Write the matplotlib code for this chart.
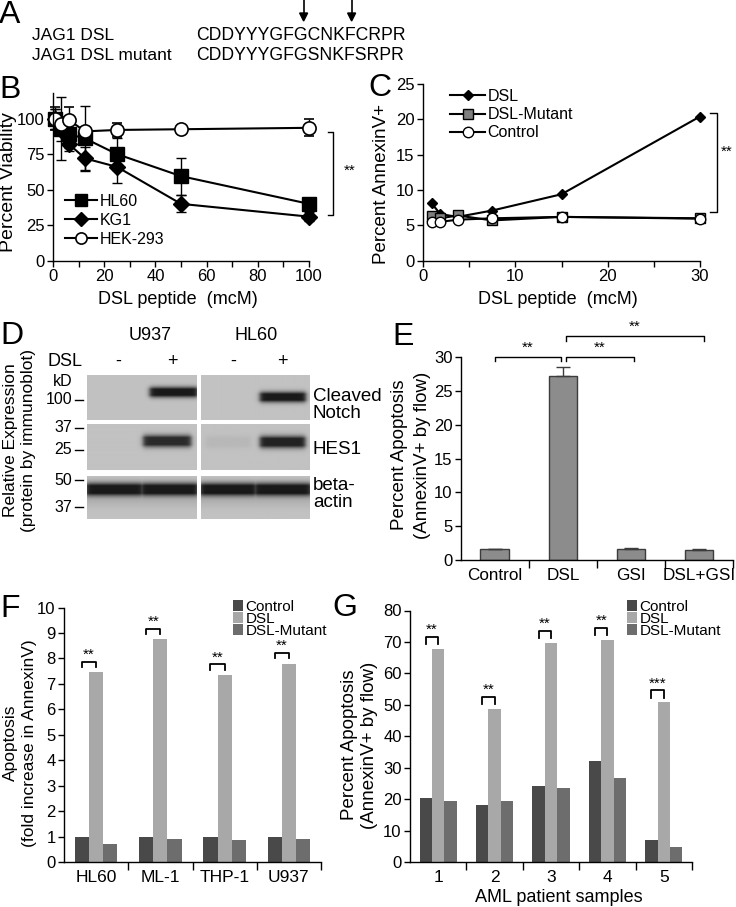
import matplotlib
matplotlib.use('Agg')
import matplotlib.pyplot as plt
import numpy as np

W, H = 736, 907
plt.rcParams['font.family'] = ['Liberation Sans', 'DejaVu Sans']
plt.rcParams['axes.linewidth'] = 1.0
plt.rcParams['xtick.direction'] = 'out'
plt.rcParams['ytick.direction'] = 'out'

# ---- data ----
seq_names = ['JAG1 DSL', 'JAG1 DSL mutant']
seqs = ['CDDYYYGFGCNKFCRPR', 'CDDYYYGFGSNKFSRPR']
mut_pos = [9, 13]

b_conc = [0.78, 3.125, 6.25, 12.5, 25, 50, 100]
b_hl60 = [100, 93, 89, 86, 75, 59.5, 40]
b_hl60_err = [7, 22, 10, 23, 11, 13, 3]
b_kg1 = [100, 92, 82, 72, 66, 40, 31]
b_kg1_err = [7, 8, 5, 8, 11, 6, 3]
b_hek = [100, 96, 99, 91, 92, 92.5, 93.5]
b_hek_err = [8, 5, 9, 3, 5, 2, 6]

c_conc = [0.9375, 1.875, 3.75, 7.5, 15, 30]
c_dsl = [8.1, 6.6, 6.2, 7.1, 9.4, 20.4]
c_mut = [6.3, 6.0, 6.4, 5.7, 6.2, 6.0]
c_ctrl = [5.5, 5.5, 5.8, 6.0, 6.2, 5.95]

blot_cells = ['U937', 'HL60']
blot_lanes = ['-', '+']
blot_proteins = ['Cleaved\nNotch', 'HES1', 'beta-\nactin']
# band strength per protein, per lane (U937 -, U937 +, HL60 -, HL60 +)
band_notch = [0.0, 1.0, 0.0, 1.0]
band_hes1 = [0.0, 0.9, 0.06, 0.95]
band_actin = [1.0, 1.0, 1.0, 1.0]
kd_labels = [['100'], ['37', '25'], ['50', '37']]

e_groups = ['Control', 'DSL', 'GSI', 'DSL+GSI']
e_vals = [1.58, 27.2, 1.7, 1.5]
e_err = [0.1, 1.4, 0.1, 0.1]

f_lines = ['HL60', 'ML-1', 'THP-1', 'U937']
f_ctrl = [1.0, 1.0, 1.0, 1.0]
f_dsl = [7.46, 8.75, 7.35, 7.8]
f_mut = [0.71, 0.9, 0.87, 0.92]
f_stars = ['**', '**', '**', '**']

g_samples = ['1', '2', '3', '4', '5']
g_ctrl = [20.3, 18.0, 24.1, 32.2, 7.1]
g_dsl = [67.9, 48.7, 69.7, 70.7, 50.8]
g_mut = [19.5, 19.3, 23.6, 26.8, 4.8]
g_stars = ['**', '**', '**', '**', '***']

bar_cols = ['#494949', '#a8a8a8', '#6d6d6d']
bar_names = ['Control', 'DSL', 'DSL-Mutant']

fig = plt.figure(figsize=(W / 100, H / 100), dpi=100)


def add_ax(l, t, r, b):
    return fig.add_axes([l / W, 1 - b / H, (r - l) / W, (b - t) / H])


def ftext(x, y, s, **kw):
    return fig.text(x / W, 1 - y / H, s, **kw)


def vlabel(xs, y, lines, size):
    # one rotated text per line, so each line sits at its own x
    for x, s in zip(xs, lines):
        ftext(x, y, s, fontsize=size, rotation=90, ha='center', va='center')


def style(ax, size=12):
    for sp in ['top', 'right']:
        ax.spines[sp].set_visible(False)
    ax.tick_params(which='both', length=4, width=1, pad=2, labelsize=size)
    ax.tick_params(which='minor', length=4)


LET = dict(fontsize=23, ha='center', va='center', family=['Liberation Sans Narrow', 'Liberation Sans'])

# ---- A ----
ftext(10, 15, 'A', **LET)
for i, (nm, sq) in enumerate(zip(seq_names, seqs)):
    ftext(32, 35 + 20 * i, nm, fontsize=12.5, va='center')
    ftext(196, 35 + 20 * i, sq, fontsize=12.7, va='center')
fig.canvas.draw()
rend = fig.canvas.get_renderer()
for p in mut_pos:
    t1 = ftext(196, 35, seqs[0][:p], fontsize=12.7, va='center')
    w1 = t1.get_window_extent(rend).width
    t1.remove()
    xc = 196 + w1 - 4
    fig.add_artist(plt.Line2D([xc / W, xc / W], [1.0, 1 - 14 / H], color='k', lw=1.2))
    fig.add_artist(plt.Polygon([[(xc - 4) / W, 1 - 13 / H], [(xc + 4) / W, 1 - 13 / H], [xc / W, 1 - 21 / H]],
                               closed=True, color='k', transform=fig.transFigure))

# ---- B ----
ftext(10, 90, 'B', **LET)
ax = add_ax(53, 93, 309, 260.7)
style(ax)
eb_kw = dict(color='k', lw=1.5, capsize=3.5, elinewidth=1, capthick=1, clip_on=False)
h1 = ax.errorbar(b_conc, b_hl60, yerr=b_hl60_err, fmt='-s', ms=9.5, mfc='k', mec='k', **eb_kw)
h2 = ax.errorbar(b_conc, b_kg1, yerr=b_kg1_err, fmt='-D', ms=8.5, mfc='k', mec='k', **eb_kw)
h3 = ax.errorbar(b_conc, b_hek, yerr=b_hek_err, fmt='-o', ms=9.5, mfc='white', mec='k', mew=1.2, **eb_kw)
for h in (h1, h2, h3):
    for a in h.lines[0:1] + h.lines[1] + h.lines[2]:
        a.set_clip_on(False)
ax.set_xlim(0, 100)
ax.set_ylim(0, 118)
ax.set_yticks([0, 25, 50, 75, 100])
ax.set_xticks(range(0, 101, 20))
ax.set_xticks(range(10, 100, 20), minor=True)
ax.legend([h1.lines[0], h2.lines[0], h3.lines[0]], ['HL60', 'KG1', 'HEK-293'], loc='upper left',
          bbox_to_anchor=(57 / W, 1 - 186 / H), bbox_transform=fig.transFigure, frameon=False,
          fontsize=11.5, handlelength=2.0, handletextpad=0.15, labelspacing=0.25, borderpad=0,
          markerscale=0.85)
ax.plot([107.4, 109.4, 109.4, 107.4], [90.8, 90.8, 32, 32], color='k', lw=1, clip_on=False)
ax.text(115.9, 63, '**', ha='center', va='center', fontsize=11)
vlabel([9], 182, ['Percent Viability'], 14)
ftext(178, 299, 'DSL peptide  (mcM)', fontsize=13, ha='center', va='center')

# ---- C ----
ftext(380, 88, 'C', **LET)
ax = add_ax(423, 84, 700, 260.7)
style(ax)
l1, = ax.plot(c_conc, c_dsl, '-D', color='k', ms=5.5, lw=1.5, clip_on=False)
l2, = ax.plot(c_conc, c_mut, '-s', color='k', mfc='#7f7f7f', mec='k', ms=7, lw=1.5, clip_on=False)
l3, = ax.plot(c_conc, c_ctrl, '-o', color='k', mfc='white', mec='k', ms=7.5, lw=1.5, clip_on=False)
ax.set_xlim(0, 30)
ax.set_ylim(0, 25)
ax.set_yticks(range(0, 26, 5))
ax.set_xticks([0, 10, 20, 30])
ax.set_xticks([5, 15, 25], minor=True)
ax.legend([l1, l2, l3], ['DSL', 'DSL-Mutant', 'Control'], loc='upper left',
          bbox_to_anchor=(442 / W, 1 - 81 / H), bbox_transform=fig.transFigure, frameon=False,
          fontsize=11.5, handlelength=2.2, handletextpad=0.15, labelspacing=0.2, borderpad=0)
ax.plot([31.1, 31.8, 31.8, 31.1], [20.85, 20.85, 6.84, 6.84], color='k', lw=1, clip_on=False)
ax.text(32.9, 15.4, '**', ha='center', va='center', fontsize=11)
vlabel([382], 184, ['Percent AnnexinV+'], 13.5)
ftext(558, 299, 'DSL peptide  (mcM)', fontsize=13, ha='center', va='center')

# ---- D ----
ftext(12, 336, 'D', **LET)
vlabel([11, 29], 440, ['Relative Expression', '(protein by immunoblot)'], 12.5)
for j, cell in enumerate(blot_cells):
    ftext([150, 256][j], 335, cell, fontsize=13, ha='center', va='center')
ftext(65, 361, 'DSL', fontsize=13, ha='center', va='center')
for k, x in enumerate([118, 172, 233, 282]):
    ftext(x, 361, blot_lanes[k % 2], fontsize=13, ha='center', va='center')
ftext(63, 382, 'kD', fontsize=11.5, ha='center', va='center')

row_px = [(375, 420), (424, 470), (476, 519)]
block_px = [(87, 197), (201, 310)]
bands = [band_notch, band_hes1, band_actin]
band_y = [[0.38, 0.49], [0.37, 0.39], [0.31, 0.31]]
band_sig = [0.075, 0.085, 0.1]
band_x = [[(0.14, 1.02), (0.08, 0.93)], [(0.02, 0.9), (0.08, 0.92)], [(-0.03, 1.03), (-0.03, 1.03)]]
kd_y = [[400], [428, 450], [480, 507]]
for r, (t, b) in enumerate(row_px):
    for j, (l, rr) in enumerate(block_px):
        ny, nx = 90, 220
        yy = np.linspace(0, 1, ny)[:, None]
        xx = np.linspace(0, 2, nx)[None, :]
        img = np.full((ny, nx), 0.76)
        if r == 2:
            img -= 0.05 * np.exp(-((yy - 0.6) / 0.15) ** 2)
        dark = np.zeros((ny, nx))
        for ln in range(2):
            s = bands[r][2 * j + ln]
            x0, x1 = band_x[r][j]
            lx = xx - ln
            xp = 1 / (1 + np.exp(-(lx - x0) / 0.025)) / (1 + np.exp((lx - x1) / 0.025))
            yp = np.clip(1.5 * np.exp(-((yy - band_y[r][j]) / band_sig[r]) ** 2 / 2), 0, 1)
            dark = np.maximum(dark, s * 0.66 * xp * yp)
        img -= dark
        bax = add_ax(l, t, rr, b)
        bax.imshow(np.clip(img, 0, 1), cmap='gray', vmin=0, vmax=1, aspect='auto',
                   extent=[0, 2, 1, 0], interpolation='bilinear')
        bax.axis('off')
    for lab, y in zip(kd_labels[r], kd_y[r]):
        ftext(72, y, lab, fontsize=11.5, ha='right', va='center')
        fig.add_artist(plt.Line2D([75 / W, 83 / W], [1 - y / H, 1 - y / H], color='k', lw=1))
ftext(313, 405, blot_proteins[0], fontsize=13.5, ha='left', va='center', linespacing=1.05)
ftext(313, 450, blot_proteins[1], fontsize=13.5, ha='left', va='center')
ftext(313, 494, blot_proteins[2], fontsize=13.5, ha='left', va='center', linespacing=1.05)

# ---- E ----
ftext(403, 337, 'E', **LET)
ax = add_ax(460.7, 357.3, 733, 560)
style(ax)
xe = np.arange(len(e_groups))
ax.bar(xe, e_vals, width=0.42, color='#8c8c8c', edgecolor='#3c3c3c', lw=1,
       yerr=[np.zeros(len(e_err)), e_err], error_kw=dict(ecolor='#3c3c3c', capsize=5, elinewidth=1, capthick=1))
ax.set_xlim(-0.5, 3.5)
ax.set_ylim(0, 30)
ax.set_yticks(range(0, 31, 5))
ax.set_xticks(xe)
ax.set_xticklabels(e_groups, fontsize=12.3)
ax.tick_params(axis='x', which='major', length=0, pad=6)
ax.set_xticks([0.5, 1.5, 2.5, 3.5], minor=True)
ax.tick_params(axis='x', which='minor', length=6)
for (a, b2, top, leg, lab) in [(0, 0.97, 30.0, 0.6, '**'), (1.04, 2.04, 30.0, 0.6, '**'),
                                (1.04, 3.08, 33.1, 0.7, '**')]:
    ax.plot([a, a, b2, b2], [top - leg, top, top, top - leg], color='k', lw=1, clip_on=False)
    ax.text((a + b2) / 2, top + 0.4, lab, ha='center', va='bottom', fontsize=11)
vlabel([400, 422], 455, ['Percent Apoptosis', '(AnnexinV+ by flow)'], 13.5)


def grouped(ax, names, ctrl, dsl, mut, stars, top_off, leg):
    x = np.arange(len(names))
    w = 0.22
    ax.bar(x - w, ctrl, width=w, color=bar_cols[0], label=bar_names[0])
    ax.bar(x, dsl, width=w, color=bar_cols[1], label=bar_names[1])
    ax.bar(x + w, mut, width=w, color=bar_cols[2], label=bar_names[2])
    for xi, d, s in zip(x, dsl, stars):
        top = d + top_off
        ax.plot([xi - w, xi - w, xi, xi], [top - leg, top, top, top - leg], color='k', lw=1.3, clip_on=False)
        ax.text(xi - w / 2, top, s, ha='center', va='bottom', fontsize=11)
    ax.set_xlim(-0.5, len(names) - 0.5)
    ax.set_xticks(x)
    ax.set_xticklabels(names, fontsize=12.5)
    ax.tick_params(axis='x', which='major', length=0, pad=6)
    ax.set_xticks(np.arange(len(names)) + 0.5, minor=True)
    ax.tick_params(axis='x', which='minor', length=6)
    ax.legend(loc='upper left', bbox_to_anchor=(1.0, 1.0), frameon=False, fontsize=11,
              handlelength=0.7, handleheight=0.7, handletextpad=0.15, labelspacing=-0.12, borderpad=0)


# ---- F ----
ftext(10, 609, 'F', **LET)
ax = add_ax(64, 607.6, 321, 862)
style(ax)
grouped(ax, f_lines, f_ctrl, f_dsl, f_mut, f_stars, 0.42, 0.22)
ax.set_ylim(0, 10)
ax.set_yticks(range(0, 11))
ax.get_legend().set_bbox_to_anchor((225 / W, 1 - 592 / H), transform=fig.transFigure)
vlabel([10, 30], 743, ['Apoptosis', '(fold increase in AnnexinV)'], 12.5)

# ---- G ----
ftext(345, 608, 'G', **LET)
ax = add_ax(410, 610.5, 692, 862)
style(ax)
grouped(ax, g_samples, g_ctrl, g_dsl, g_mut, g_stars, 3.8, 2.4)
ax.set_ylim(0, 80)
ax.set_yticks(range(0, 81, 10))
ax.get_legend().set_bbox_to_anchor((619 / W, 1 - 592 / H), transform=fig.transFigure)
vlabel([350, 369], 745, ['Percent Apoptosis', '(AnnexinV+ by flow)'], 13.5)
ftext(559, 897, 'AML patient samples', fontsize=13, ha='center', va='center')

fig.savefig('out.png', dpi=100)
